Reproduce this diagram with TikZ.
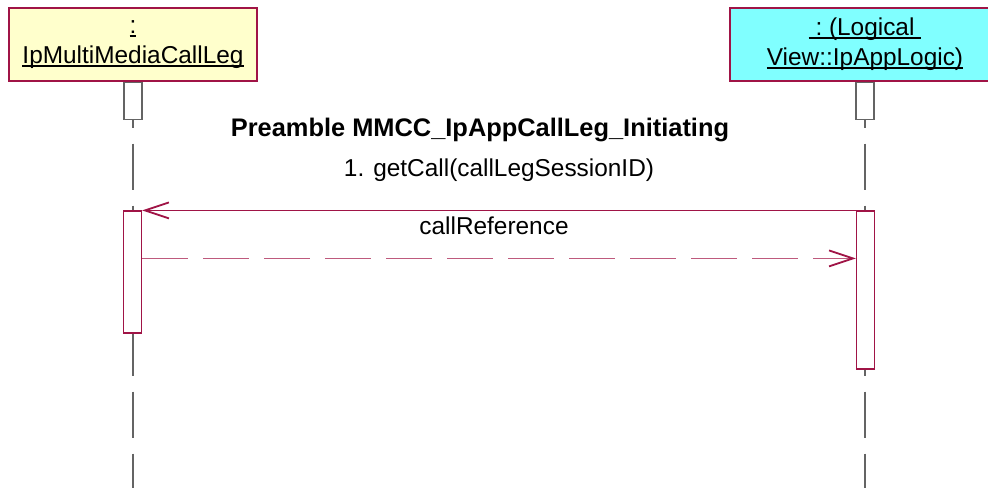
\documentclass[tikz,border=0pt]{standalone}
\usepackage{fontspec}
\setmainfont{Liberation Sans}
\usepackage{xcolor}
\usetikzlibrary{arrows.meta,calc}

\definecolor{umlred}{RGB}{160,20,70}
\definecolor{umlpink}{RGB}{190,90,125}
\definecolor{umlyellow}{RGB}{255,255,204}
\definecolor{umlcyan}{RGB}{128,255,255}
\definecolor{umlgray}{RGB}{100,100,100}

% underline close to the baseline, as the tool draws it
\newcommand{\ulined}[1]{\setbox0\hbox{#1}\rlap{\rule[-1.6pt]{\wd0}{0.8pt}}\box0}

\tikzset{
  objbox/.style={draw=umlred, line width=0.6pt, minimum height=36.5pt, align=center,
    inner sep=0pt, font=\fontsize{12.2}{15}\selectfont},
  headbox/.style={draw=umlgray, fill=white, line width=0.6pt, minimum width=9pt,
    minimum height=18.5pt, inner sep=0pt},
  actbox/.style={draw=umlred, fill=white, line width=0.6pt, minimum width=9pt, inner sep=0pt},
  lifeline/.style={draw=umlgray, line width=0.8pt, dash pattern=on 23pt off 8pt},
  callmsg/.style={draw=umlred, line width=0.6pt, -{Straight Barb[length=12pt,width=8pt,line width=0.9pt]}},
  returnmsg/.style={draw=umlpink, line width=0.6pt, dash pattern=on 23pt off 7.5pt,
    -{Straight Barb[length=12pt,width=8pt,line width=0.9pt,umlred]}},
  msglabel/.style={font=\fontsize{12.2}{15}\selectfont, anchor=base, inner sep=0pt}
}

\begin{document}
\begin{tikzpicture}[x=0.5pt, y=-0.5pt]
\clip (0,0) rectangle (988,488);
\fill[white] (0,0) rectangle (988,488);

% objects
\node[objbox, fill=umlyellow, minimum width=124pt] (leg) at (133,44.5)
  {\ulined{:}\\\ulined{IpMultiMediaCallLeg}};
\node[objbox, fill=umlcyan, minimum width=135pt] (app) at (865,44.5)
  {\ulined{\ :\ (Logical\ }\\\ulined{View::IpAppLogic)}};

% lifelines
\coordinate (legEnd) at (133,488);
\coordinate (appEnd) at (865,488);
\draw[lifeline] (leg.south) -- (legEnd);
\draw[lifeline] (app.south) -- (appEnd);

\node[headbox, anchor=north] (legHead) at (leg.south) {};
\node[headbox, anchor=north] (appHead) at (app.south) {};

% activations
\node[actbox, minimum height=61pt] (legAct) at (132.5,272) {};
\node[actbox, minimum height=79pt] (appAct) at (865.5,290) {};

\node[font=\bfseries\fontsize{12.7}{15}\selectfont, anchor=base, inner sep=0pt] (title) at (480,136)
  {Preamble MMCC\_IpAppCallLeg\_Initiating};

% messages
\draw[callmsg] (appAct.north west) -- (legAct.north east)
  node[msglabel, midway, yshift=17pt] {1. getCall(callLegSessionID)};
\draw[returnmsg] ($(legAct.north east)+(0,48)$) -- ($(appAct.north west)+(0,48)$)
  node[msglabel, midway, yshift=12pt, xshift=-2.5pt] {callReference};
\end{tikzpicture}
\end{document}
